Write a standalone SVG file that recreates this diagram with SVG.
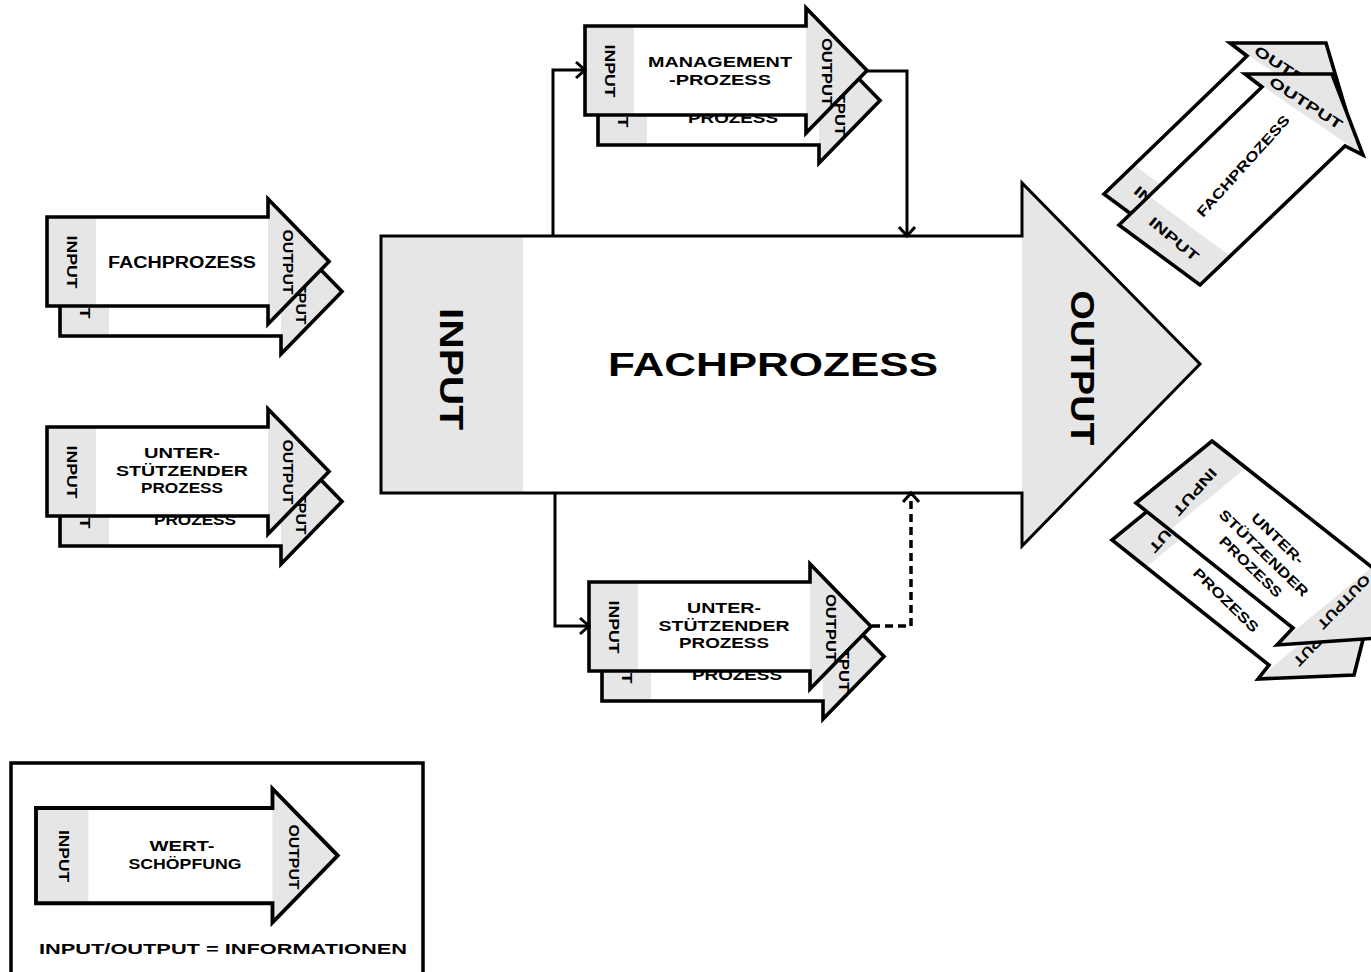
<svg xmlns="http://www.w3.org/2000/svg" xmlns:xlink="http://www.w3.org/1999/xlink" width="1371" height="972" viewBox="0 0 1371 972">
  <style>
    .bg { fill: #ffffff; }
    .band { fill: #e6e6e6; stroke: none; }
    .body { fill: #ffffff; stroke: none; }
    .edge { fill: none; stroke: #000; stroke-width: 3.6; stroke-linejoin: miter; stroke-miterlimit: 10; }
    .t { font-family: "Liberation Sans", Arial, sans-serif; font-weight: bold; fill: #000; text-anchor: middle; }
    .s14 { font-size: 14px; }
    .big { font-size: 34px; }
    .con { fill: none; stroke: #000; stroke-width: 3; }
    .dash { stroke-dasharray: 8 5; stroke-width: 3.5; }
  </style>
  <defs>
    <!-- process arrow: body 221x89, head to x=282 -->
    <g id="proc">
      <polygon class="body" points="0,0 221,0 221,-18 282,44.5 221,107 221,89 0,89"/>
      <rect class="band" x="0" y="0" width="49" height="89"/>
      <polygon class="band" points="221,-18 282,44.5 221,107"/>
      <polygon class="edge" points="0,0 221,0 221,-18 282,44.5 221,107 221,89 0,89"/>
    </g>
    <marker id="chev" markerUnits="userSpaceOnUse" markerWidth="24" markerHeight="24" refX="12" refY="12" orient="auto" overflow="visible">
      <path d="M3,4 L12,12 L3,20" fill="none" stroke="#000" stroke-width="3"/>
    </marker>
  </defs>

  <rect class="bg" x="0" y="0" width="1371" height="972"/>

  <!-- central process -->
  <g id="main-fachprozess">
    <polygon class="body" points="381,236 1022,236 1022,183 1200,364 1022,546 1022,493 381,493"/>
    <rect class="band" x="381" y="236" width="142" height="257"/>
    <polygon class="band" points="1022,183 1200,364 1022,546"/>
    <polygon class="edge" style="stroke-width:3" points="381,236 1022,236 1022,183 1200,364 1022,546 1022,493 381,493"/>
    <text class="t big" transform="translate(452,369) rotate(90)" y="12" textLength="122" lengthAdjust="spacingAndGlyphs">INPUT</text>
    <text class="t big" transform="translate(1083,368) rotate(90)" y="12" textLength="155" lengthAdjust="spacingAndGlyphs">OUTPUT</text>
    <text class="t big" x="773" y="376" textLength="330" lengthAdjust="spacingAndGlyphs">FACHPROZESS</text>
  </g>

  <!-- left: fachprozess stack -->
  <g id="left-fach-back" transform="translate(60,247)">
    <use xlink:href="#proc"/>
    <text class="t s14" transform="translate(25,45) rotate(90)" y="5" textLength="53" lengthAdjust="spacingAndGlyphs">INPUT</text>
    <text class="t s14" transform="translate(241,45) rotate(90)" y="5" textLength="65" lengthAdjust="spacingAndGlyphs">OUTPUT</text>
  </g>
  <g id="left-fach" transform="translate(47,217)">
    <use xlink:href="#proc"/>
    <text class="t s14" transform="translate(25,45) rotate(90)" y="5" textLength="53" lengthAdjust="spacingAndGlyphs">INPUT</text>
    <text class="t s14" transform="translate(241,45) rotate(90)" y="5" textLength="65" lengthAdjust="spacingAndGlyphs">OUTPUT</text>
    <text class="t" style="font-size:16px" x="135" y="51" textLength="148" lengthAdjust="spacingAndGlyphs">FACHPROZESS</text>
  </g>

  <!-- left: supporting process stack -->
  <g id="left-unter-back" transform="translate(60,457)">
    <use xlink:href="#proc"/>
    <text class="t s14" transform="translate(25,45) rotate(90)" y="5" textLength="53" lengthAdjust="spacingAndGlyphs">INPUT</text>
    <text class="t s14" transform="translate(241,45) rotate(90)" y="5" textLength="65" lengthAdjust="spacingAndGlyphs">OUTPUT</text>
    <text class="t s14" x="135" y="68" textLength="82" lengthAdjust="spacingAndGlyphs">PROZESS</text>
  </g>
  <g id="left-unter" transform="translate(47,427)">
    <use xlink:href="#proc"/>
    <text class="t s14" transform="translate(25,45) rotate(90)" y="5" textLength="53" lengthAdjust="spacingAndGlyphs">INPUT</text>
    <text class="t s14" transform="translate(241,45) rotate(90)" y="5" textLength="65" lengthAdjust="spacingAndGlyphs">OUTPUT</text>
    <text class="t s14" x="135" y="31" textLength="76" lengthAdjust="spacingAndGlyphs">UNTER-</text>
    <text class="t s14" x="135" y="49" textLength="132" lengthAdjust="spacingAndGlyphs">STÜTZENDER</text>
    <text class="t s14" x="135" y="66" textLength="82" lengthAdjust="spacingAndGlyphs">PROZESS</text>
  </g>

  <!-- top: management process stack -->
  <g id="mgmt-back" transform="translate(598,56)">
    <use xlink:href="#proc"/>
    <text class="t s14" transform="translate(25,45) rotate(90)" y="5" textLength="53" lengthAdjust="spacingAndGlyphs">INPUT</text>
    <text class="t s14" transform="translate(242,46) rotate(90)" y="5" textLength="68" lengthAdjust="spacingAndGlyphs">OUTPUT</text>
    <text class="t s14" x="135" y="67" textLength="90" lengthAdjust="spacingAndGlyphs">PROZESS</text>
  </g>
  <g id="mgmt" transform="translate(585,26)">
    <use xlink:href="#proc"/>
    <text class="t s14" transform="translate(25,45) rotate(90)" y="5" textLength="53" lengthAdjust="spacingAndGlyphs">INPUT</text>
    <text class="t s14" transform="translate(242,46) rotate(90)" y="5" textLength="68" lengthAdjust="spacingAndGlyphs">OUTPUT</text>
    <text class="t s14" x="135" y="41" textLength="144" lengthAdjust="spacingAndGlyphs">MANAGEMENT</text>
    <text class="t s14" x="135" y="59" textLength="102" lengthAdjust="spacingAndGlyphs">-PROZESS</text>
  </g>

  <!-- bottom: supporting process stack -->
  <g id="unter-back" transform="translate(602,612)">
    <use xlink:href="#proc"/>
    <text class="t s14" transform="translate(25,45) rotate(90)" y="5" textLength="53" lengthAdjust="spacingAndGlyphs">INPUT</text>
    <text class="t s14" transform="translate(242,46) rotate(90)" y="5" textLength="68" lengthAdjust="spacingAndGlyphs">OUTPUT</text>
    <text class="t s14" x="135" y="68" textLength="90" lengthAdjust="spacingAndGlyphs">PROZESS</text>
  </g>
  <g id="unter" transform="translate(589,582)">
    <use xlink:href="#proc"/>
    <text class="t s14" transform="translate(25,45) rotate(90)" y="5" textLength="53" lengthAdjust="spacingAndGlyphs">INPUT</text>
    <text class="t s14" transform="translate(242,46) rotate(90)" y="5" textLength="68" lengthAdjust="spacingAndGlyphs">OUTPUT</text>
    <text class="t s14" x="135" y="31" textLength="74" lengthAdjust="spacingAndGlyphs">UNTER-</text>
    <text class="t s14" x="135" y="49" textLength="131" lengthAdjust="spacingAndGlyphs">STÜTZENDER</text>
    <text class="t s14" x="135" y="66" textLength="90" lengthAdjust="spacingAndGlyphs">PROZESS</text>
  </g>

  <!-- right top: outgoing fachprozess stack -->
  <g id="out-fach-back">
    <polygon class="body" points="1104,194 1247,56 1230,43 1326,43 1350,124 1330,115 1185,254"/>
    <polygon class="band" points="1104,194 1134,165 1215,225 1185,254"/>
    <polygon class="band" points="1230,43 1326,43 1350,124"/>
    <polygon class="edge" points="1104,194 1247,56 1230,43 1326,43 1350,124 1330,115 1185,254"/>
    <text class="t s14" transform="translate(1159,208) rotate(40)" y="5" textLength="60" lengthAdjust="spacingAndGlyphs">INPUT</text>
    <text class="t s14" transform="translate(1291,72) rotate(33)" y="5" textLength="84" lengthAdjust="spacingAndGlyphs">OUTPUT</text>
  </g>
  <g id="out-fach">
    <polygon class="body" points="1119,225 1262,87 1245,74 1332,74 1363,155 1345,146 1200,285"/>
    <polygon class="band" points="1119,225 1149,196 1230,256 1200,285"/>
    <polygon class="band" points="1245,74 1332,74 1363,155"/>
    <polygon class="edge" points="1119,225 1262,87 1245,74 1332,74 1363,155 1345,146 1200,285"/>
    <text class="t s14" transform="translate(1174,239) rotate(40)" y="5" textLength="60" lengthAdjust="spacingAndGlyphs">INPUT</text>
    <text class="t s14" transform="translate(1306,103) rotate(33)" y="5" textLength="84" lengthAdjust="spacingAndGlyphs">OUTPUT</text>
    <text class="t s14" transform="translate(1243,166) rotate(-48)" y="5" textLength="131" lengthAdjust="spacingAndGlyphs">FACHPROZESS</text>
  </g>

  <!-- right bottom: outgoing supporting process stack -->
  <g id="out-unter-back">
    <polygon class="body" points="1188,478 1368,620 1354,675 1258,679 1269,665 1112,540"/>
    <polygon class="band" points="1188,478 1222,505 1146,567 1112,540"/>
    <polygon class="band" points="1258,679 1348,604 1368,620 1354,675"/>
    <polygon class="edge" points="1188,478 1368,620 1354,675 1258,679 1269,665 1112,540"/>
    <text class="t s14" transform="translate(1171,529) rotate(132)" y="5" textLength="58" lengthAdjust="spacingAndGlyphs">INPUT</text>
    <text class="t s14" transform="translate(1320,639) rotate(134)" y="5" textLength="69" lengthAdjust="spacingAndGlyphs">OUTPUT</text>
    <text class="t s14" transform="translate(1226,600) rotate(44)" y="5" textLength="85" lengthAdjust="spacingAndGlyphs">PROZESS</text>
  </g>
  <g id="out-unter">
    <polygon class="body" points="1212,441 1392,583 1378,638 1277,645 1293,628 1136,503"/>
    <polygon class="band" points="1212,441 1246,468 1170,530 1136,503"/>
    <polygon class="band" points="1277,645 1372,567 1392,583 1378,638"/>
    <polygon class="edge" points="1212,441 1392,583 1378,638 1277,645 1293,628 1136,503"/>
    <text class="t s14" transform="translate(1195,492) rotate(132)" y="5" textLength="58" lengthAdjust="spacingAndGlyphs">INPUT</text>
    <text class="t s14" transform="translate(1344,602) rotate(134)" y="5" textLength="69" lengthAdjust="spacingAndGlyphs">OUTPUT</text>
    <g transform="translate(1264,553) rotate(44)">
      <text class="t s14" x="0" y="-15" textLength="67" lengthAdjust="spacingAndGlyphs">UNTER-</text>
      <text class="t s14" x="0" y="5" textLength="118" lengthAdjust="spacingAndGlyphs">STÜTZENDER</text>
      <text class="t s14" x="0" y="24" textLength="81" lengthAdjust="spacingAndGlyphs">PROZESS</text>
    </g>
  </g>

  <!-- connectors -->
  <g id="connectors">
    <path class="con" d="M553,236 V70 H585" marker-end="url(#chev)"/>
    <path class="con" d="M866,71 H907 V236" marker-end="url(#chev)"/>
    <path class="con" d="M555,493 V626 H589" marker-end="url(#chev)"/>
    <path class="con dash" d="M872,626 H911 V493" marker-end="url(#chev)"/>
  </g>

  <!-- legend -->
  <g id="legend">
    <rect x="11" y="763" width="412" height="230" fill="none" stroke="#000" stroke-width="3.5"/>
    <g transform="translate(36,808) scale(1.07)">
      <use xlink:href="#proc"/>
    </g>
    <text class="t s14" transform="translate(64,856) rotate(90)" y="5" textLength="52" lengthAdjust="spacingAndGlyphs">INPUT</text>
    <text class="t s14" transform="translate(294,857) rotate(90)" y="5" textLength="65" lengthAdjust="spacingAndGlyphs">OUTPUT</text>
    <text class="t s14" x="182" y="851" textLength="65" lengthAdjust="spacingAndGlyphs">WERT-</text>
    <text class="t s14" x="185" y="869" textLength="113" lengthAdjust="spacingAndGlyphs">SCHÖPFUNG</text>
    <text class="t s14" x="223" y="954" textLength="368" lengthAdjust="spacingAndGlyphs">INPUT/OUTPUT = INFORMATIONEN</text>
  </g>
</svg>
